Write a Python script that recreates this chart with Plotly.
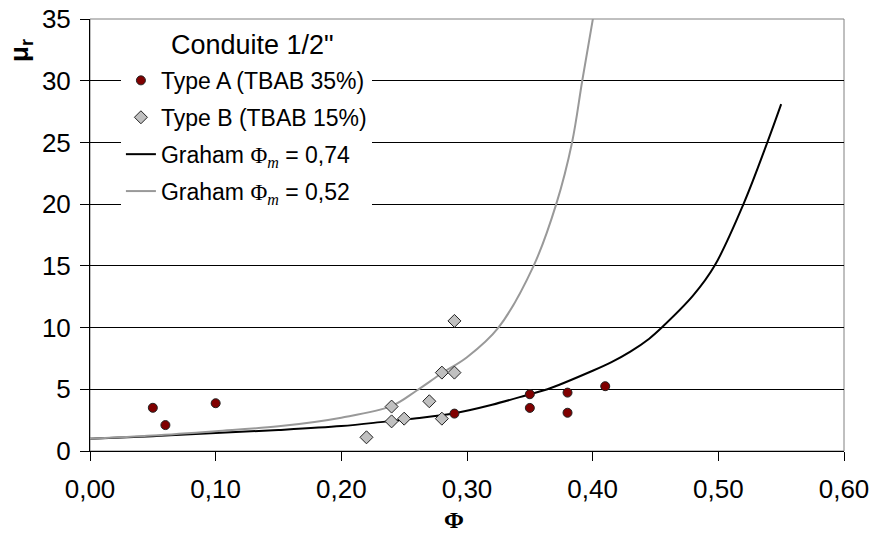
import plotly.graph_objects as go

# Measured data
phi_a = [0.05, 0.06, 0.10, 0.29, 0.35, 0.35, 0.38, 0.38, 0.41]
mu_a = [3.5, 2.1, 3.87, 3.03, 4.6, 3.49, 4.73, 3.1, 5.25]

phi_b = [0.22, 0.24, 0.24, 0.25, 0.27, 0.28, 0.28, 0.29, 0.29]
mu_b = [1.11, 2.4, 3.6, 2.62, 4.03, 2.62, 6.35, 6.35, 10.54]

# Graham model curves
phi_g74 = [0.0, 0.05, 0.10, 0.15, 0.20, 0.235, 0.26, 0.29, 0.32,
           0.35, 0.364, 0.40, 0.415, 0.43, 0.445, 0.455, 0.48, 0.497, 0.52, 0.539, 0.55]
mu_g74 = [1.0, 1.2, 1.45, 1.7, 2.02, 2.38, 2.65, 3.06, 3.75,
          4.6, 5.0, 6.5, 7.2, 8.05, 9.1, 10.0, 12.6, 15.0, 20.0, 25.0, 28.1]

phi_g52 = [0.0, 0.05, 0.10, 0.15, 0.20, 0.24, 0.26, 0.28, 0.30, 0.325,
           0.353, 0.371, 0.3836, 0.3917, 0.4005]
mu_g52 = [1.0, 1.25, 1.6, 2.0, 2.7, 3.65, 4.9, 6.3, 7.6, 10.0,
          15.0, 20.0, 25.0, 30.0, 35.2]

x_ticks = [0.0, 0.1, 0.2, 0.3, 0.4, 0.5, 0.6]
x_ticktext = ["0,00", "0,10", "0,20", "0,30", "0,40", "0,50", "0,60"]
y_ticks = [0, 5, 10, 15, 20, 25, 30, 35]

FONT = "Liberation Sans, Arial, sans-serif"
SERIF = "Liberation Serif, Times New Roman, serif"

phi_m = "<span style='font-family:Liberation Serif, serif'>Φ<sub><i>m</i></sub></span>"

fig = go.Figure()

fig.add_trace(go.Scatter(
    x=phi_g74, y=mu_g74, mode="lines", name="Graham " + phi_m + " = 0,74",
    line=dict(color="#000000", width=2, shape="spline", smoothing=1.0),
    legendrank=3, legendgroup="g74"))
fig.add_trace(go.Scatter(
    x=phi_g52, y=mu_g52, mode="lines", name="Graham " + phi_m + " = 0,52",
    line=dict(color="#999999", width=2, shape="spline", smoothing=1.0),
    legendrank=4, legendgroup="g52"))
fig.add_trace(go.Scatter(
    x=phi_a, y=mu_a, mode="markers", name="Type A (TBAB 35%)",
    marker=dict(symbol="circle", size=9, color="#800000",
                line=dict(color="#222222", width=1)),
    legendrank=1, legendgroup="a"))
fig.add_trace(go.Scatter(
    x=phi_b, y=mu_b, mode="markers", name="Type B (TBAB 15%)",
    marker=dict(symbol="diamond", size=10, color="#C0C0C0",
                line=dict(color="#222222", width=1)),
    legendrank=2, legendgroup="b"))

fig.update_layout(
    width=874, height=535,
    margin=dict(l=90, r=30, t=19, b=84),
    paper_bgcolor="white", plot_bgcolor="white",
    font=dict(family=FONT, color="black", size=22),
    showlegend=True,
    legend=dict(
        x=0.041, y=0.9076, xanchor="left", yanchor="top",
        bgcolor="white", borderwidth=0,
        font=dict(family=FONT, size=23, color="black"),
        itemwidth=30, traceorder="grouped", tracegroupgap=4,
    ),
    shapes=[dict(type="rect", xref="paper", yref="paper", x0=0, y0=0, x1=1, y1=1,
                 line=dict(color="#808080", width=1), layer="below")],
    annotations=[
        dict(text="Conduite 1/2\"", xref="paper", yref="paper",
             x=0.2149, y=0.9398, xanchor="center", yanchor="middle",
             showarrow=False, bgcolor="white",
             font=dict(family=FONT, size=27, color="black")),
        dict(text="<b>μ<sub>r</sub></b>", xref="paper", yref="paper",
             x=-0.093, y=0.928, xanchor="center", yanchor="middle",
             textangle=-90, showarrow=False,
             font=dict(family=FONT, size=26, color="black")),
        dict(text="<b>Φ</b>", xref="paper", yref="paper",
             x=0.483, y=-0.16, xanchor="center", yanchor="middle",
             showarrow=False,
             font=dict(family=SERIF, size=24, color="black")),
    ],
)

fig.update_xaxes(
    range=[0, 0.6], tickvals=x_ticks, ticktext=x_ticktext,
    showgrid=False, zeroline=False, automargin=False,
    showline=True, linecolor="#000000", linewidth=1,
    ticks="outside", ticklen=9, tickcolor="#000000",
    ticklabelstandoff=6,
    tickfont=dict(family=FONT, size=26, color="black"),
)
fig.update_yaxes(
    range=[0, 35], tickvals=y_ticks,
    showgrid=True, gridcolor="#000000", gridwidth=1, zeroline=False,
    automargin=False,
    showline=True, linecolor="#000000", linewidth=1,
    ticks="outside", ticklen=9, tickcolor="#000000",
    ticklabelstandoff=4,
    tickfont=dict(family=FONT, size=26, color="black"),
)

fig.write_html("out.html", config={"displayModeBar": False},
               post_script="document.body.style.margin='0';")
